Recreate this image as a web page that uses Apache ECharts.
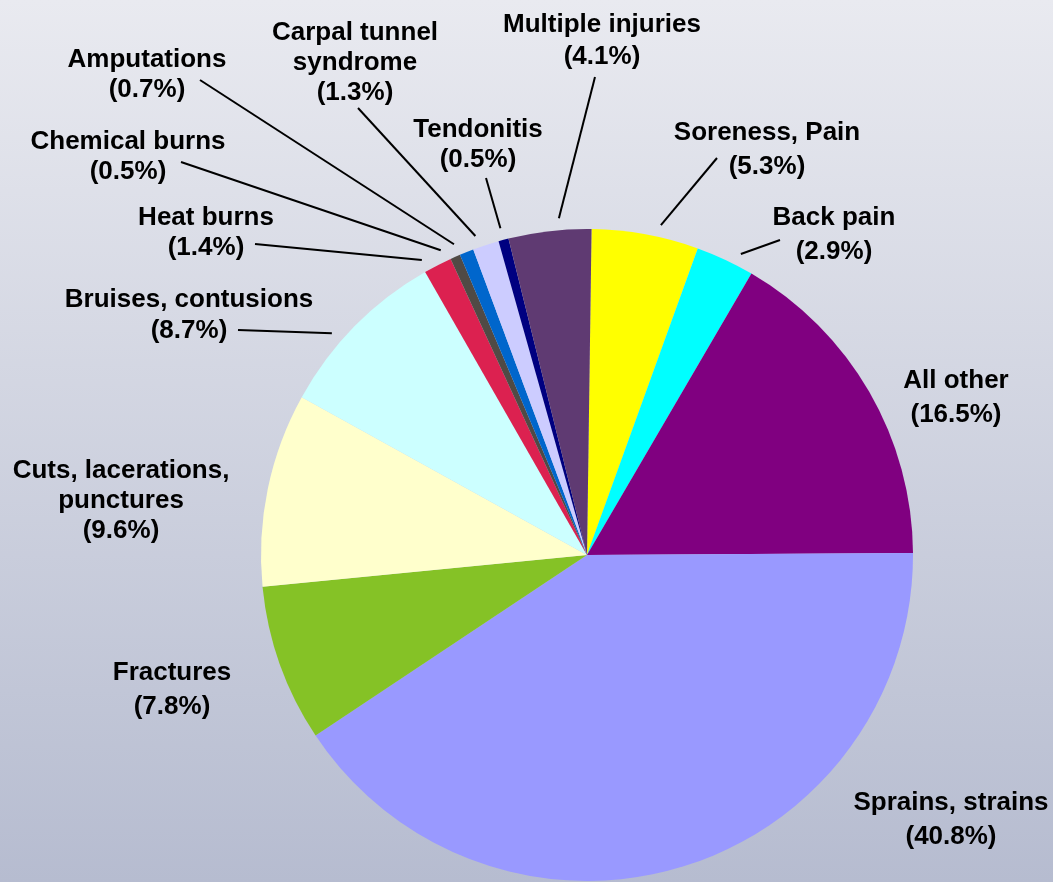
<!DOCTYPE html>
<html><head><meta charset="utf-8">
<script src="https://cdn.jsdelivr.net/npm/echarts@6/dist/echarts.min.js"></script>
<style>html,body{margin:0;padding:0;} #c{width:1053px;height:882px;}</style>
</head><body><div id="c"></div>
<script>
const categories = ['Soreness, Pain','Back pain','All other','Sprains, strains','Fractures','Cuts, lacerations,\npunctures','Bruises, contusions','Heat burns','Chemical burns','Amputations','Carpal tunnel\nsyndrome','Tendonitis','Multiple injuries'];
const values = [5.3,2.9,16.5,40.8,7.8,9.6,8.7,1.4,0.5,0.7,1.3,0.5,4.1];
const colors = ['#FFFF00','#00FFFF','#800080','#9999FF','#85C226','#FFFFCC','#CCFFFF','#DC2150','#504A45','#0066CC','#CCCCFF','#000080','#5F3A72'];
// label layout: centre of each label block, leader-line end offset from that centre,
// leader-line start angular shift (degrees) from the slice middle, line height
const labelCenters = [[767,150],[834,235],[956,398],[951,820],[172,690],[121,501],[189,315],[206,233],[128,157],[147,75],[355,63],[478,145],[602,41]];
const lineOffsets = [[-50,8],[-54,5],null,null,null,null,[49,15],[49,11],[53,5],[53,5],[3,45],[8,33],[-7,36]];
const lineShifts = [-2.3,-2,0,0,0,0,3.6,2,1.8,1.5,1.2,0,-1.8];
const lineHeights = [34,34,34,34,34,30,31,30,30,30,30,30,32];

const CX = 587, CY = 555, R = 326;
const chart = echarts.init(document.getElementById('c'));
const data = categories.map((name, i) => ({
  name: name,
  value: values[i],
  itemStyle: { color: colors[i] },
  label: { lineHeight: lineHeights[i] },
  labelLine: { show: lineOffsets[i] != null }
}));
chart.setOption({
  backgroundColor: new echarts.graphic.LinearGradient(0, 0, 0, 1, [
    { offset: 0, color: '#E9EAF0' },
    { offset: 1, color: '#B6BCD0' }
  ]),
  animation: false,
  series: [{
    type: 'pie',
    center: [CX, CY],
    radius: R,
    startAngle: 89.2,
    clockwise: true,
    avoidLabelOverlap: false,
    minShowLabelAngle: 0,
    data: data,
    itemStyle: { borderWidth: 0 },
    emphasis: { disabled: true },
    label: {
      show: true,
      position: 'outside',
      color: '#000',
      fontFamily: '"Liberation Sans", Arial, sans-serif',
      fontWeight: 'bold',
      fontSize: 26,
      align: 'center',
      formatter: p => p.name + '\n(' + p.value.toFixed(1) + '%)'
    },
    labelLine: { show: true, lineStyle: { color: '#000', width: 2 } },
    labelLayout: function (params) {
      const i = params.dataIndex;
      const c = labelCenters[i];
      const res = { x: c[0], y: c[1], align: 'center', verticalAlign: 'middle' };
      const off = lineOffsets[i];
      if (off && params.labelLinePoints) {
        const p0 = params.labelLinePoints[0];
        const ang = Math.atan2(-(p0[1] - CY), p0[0] - CX) + lineShifts[i] * Math.PI / 180;
        const s = [CX + Math.cos(ang) * (R + 12), CY - Math.sin(ang) * (R + 12)];
        const e = [c[0] + off[0], c[1] + off[1]];
        res.labelLinePoints = [s, e, e];
      }
      return res;
    }
  }]
});
</script></body></html>
